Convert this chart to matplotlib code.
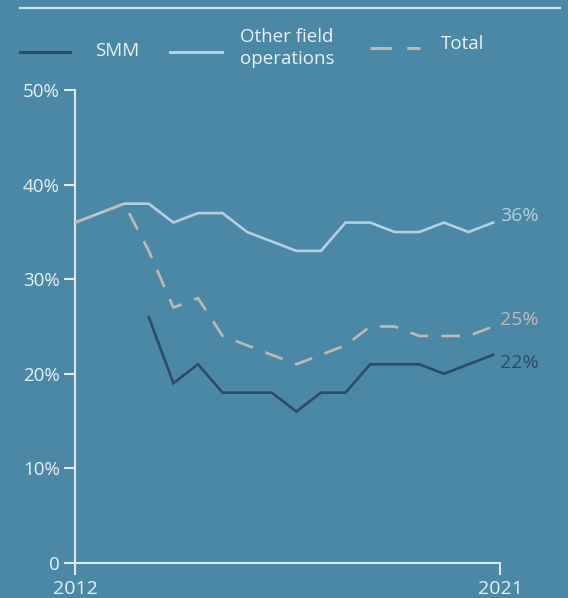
import matplotlib
matplotlib.use("Agg")
import matplotlib.pyplot as plt
from matplotlib.lines import Line2D

plt.rcParams['font.family'] = ['Open Sans', 'DejaVu Sans']

# ---- data ----
periods = list(range(18))  # semiannual observations, 2012 ... 2021
other_field = [36, 37, 38, 38, 36, 37, 37, 35, 34, 33, 33, 36, 36, 35, 35, 36, 35, 36]
total = [36, 37, 38, 33, 27, 28, 24, 23, 22, 21, 22, 23, 25, 25, 24, 24, 24, 25]
smm = [None, None, None, 26, 19, 21, 18, 18, 18, 16, 18, 18, 21, 21, 21, 20, 21, 22]
y_ticks = [0, 10, 20, 30, 40, 50]
y_tick_labels = ['0', '10%', '20%', '30%', '40%', '50%']
x_tick_labels = ['2012', '2021']

BG = '#4a88a6'
SMM_C = '#2d4a6d'
OTHER_C = '#b4d0de'
TOTAL_C = '#bdb9b3'
TXT = '#e9f1f5'
AX_C = '#dce9f0'

W, H = 568, 598
fig = plt.figure(figsize=(W / 100, H / 100), dpi=100, facecolor=BG)

x_end = 17.28
left_px, right_px = 75, 500
top_px, zero_px, bot_px = 90.3, 562.7, 574
px_per_unit = (zero_px - top_px) / 50
ymin = -(bot_px - zero_px) / px_per_unit
ax = fig.add_axes([left_px / W, 1 - bot_px / H, (right_px - left_px) / W, (bot_px - top_px) / H])
ax.set_facecolor(BG)
ax.set_xlim(0, x_end)
ax.set_ylim(ymin, 50)

xs_smm = [p for p, v in zip(periods, smm) if v is not None]
vs_smm = [v for v in smm if v is not None]

lw = 1.9
ax.plot(periods, other_field, color=OTHER_C, lw=lw, solid_joinstyle='miter', zorder=3)
ax.plot(periods, total, color=TOTAL_C, lw=lw, linestyle=(0, (7, 5)), zorder=4)
ax.plot(xs_smm, vs_smm, color=SMM_C, lw=lw, solid_joinstyle='miter', zorder=5)

# end labels
fs_lab = 14
for vals, col, dy in [(other_field, OTHER_C, 5), (total, TOTAL_C, 5), (smm, SMM_C, -6)]:
    ax.annotate(f"{vals[-1]}%", xy=(periods[-1], vals[-1]), xytext=(5, dy),
                textcoords='offset points', color=col, fontsize=fs_lab, va='center', ha='left')

# axes styling
for s in ['top', 'right', 'bottom']:
    ax.spines[s].set_visible(False)
ax.spines['left'].set_color(AX_C)
ax.spines['left'].set_linewidth(1.5)
ax.axhline(0, xmin=0, xmax=1, color=AX_C, lw=1.5, zorder=2)
ax.plot([x_end, x_end], [ymin, 0], color=AX_C, lw=1.5, clip_on=False, zorder=2)

ax.set_yticks(y_ticks)
ax.set_yticklabels(y_tick_labels)
ax.tick_params(axis='y', colors=AX_C, length=8, width=1.5, pad=3, labelsize=13.5, labelcolor=TXT)
ax.set_xticks([0, x_end])
ax.set_xticklabels(x_tick_labels)
ax.tick_params(axis='x', length=0, pad=4, labelsize=14, labelcolor=TXT)

# top rule
fig.add_artist(Line2D([20 / W, 560 / W], [1 - 8 / H, 1 - 8 / H], color='#cfe2eb', lw=1.6))

# legend (manual)
def leg_line(x0, x1, y, **kw):
    fig.add_artist(Line2D([x0 / W, x1 / W], [1 - y / H, 1 - y / H], lw=2.2, **kw))

leg_line(20, 70, 51.5, color=SMM_C)
fig.text(95 / W, 1 - 51 / H, 'SMM', color=TXT, fontsize=13.5, va='center', ha='left')
leg_line(170, 222, 51.5, color=OTHER_C)
fig.text(240 / W, 1 - 48 / H, 'Other field\noperations', color=TXT, fontsize=13.5, va='center',
         ha='left', linespacing=1.3)
leg_line(370, 420, 47.5, color=TOTAL_C, linestyle=(0, (7, 5)))
fig.text(441 / W, 1 - 44 / H, 'Total', color=TXT, fontsize=13.5, va='center', ha='left')

fig.savefig('out.png', dpi=100, facecolor=BG)
